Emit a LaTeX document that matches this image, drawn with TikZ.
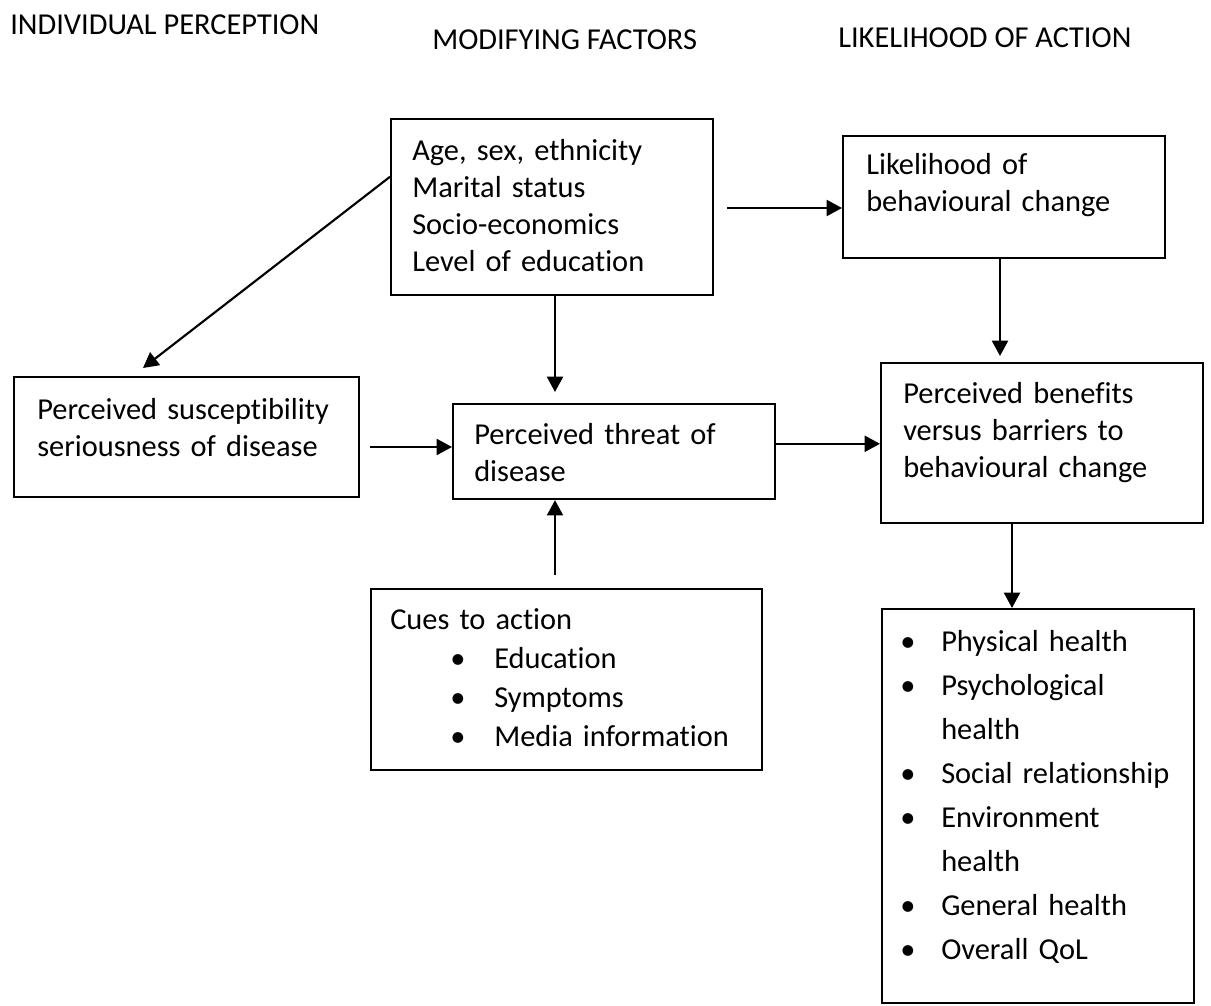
\documentclass[tikz,border=0pt]{standalone}
\usepackage{fontspec}
\setmainfont{Carlito}[RawFeature={-liga}]
\usetikzlibrary{arrows.meta,calc}

\newcommand{\itemdot}[1]{\makebox[#1][l]{\textbullet}}

\begin{document}
\begin{tikzpicture}[x=0.75pt,y=0.75pt,yscale=-1,xscale=1,
  box/.style={draw,line width=1.6pt,anchor=north west,inner sep=0pt},
  txt/.style={anchor=base west,inner sep=0pt,align=left,text width=#1},
  txt/.default=320pt,
  head/.style={anchor=base west,inner sep=0pt},
  arr/.style={line width=1.6pt,-{Triangle[length=11.5pt,width=12pt]}},
  font=\fontsize{22.8}{27.75}\selectfont]
\useasboundingbox (0,0) rectangle (1211,1006);

%Headers
\node[head] (hd-ind) at (10,35) {INDIVIDUAL PERCEPTION};
\node[head] (hd-mod) at (432,50) {MODIFYING FACTORS};
\node[head] (hd-act) at (838,48) {LIKELIHOOD OF ACTION};

%Boxes
\node[box,minimum width=241.5pt,minimum height=132pt] (demog) at (390,118) {};
\node[box,minimum width=241.5pt,minimum height=91.5pt] (likely) at (842,135) {};
\node[box,minimum width=258.75pt,minimum height=90pt] (suscept) at (13,376) {};
\node[box,minimum width=241.5pt,minimum height=71.25pt] (threat) at (452,403) {};
\node[box,minimum width=241.5pt,minimum height=120pt] (benefit) at (880,362) {};
\node[box,minimum width=293.25pt,minimum height=135.75pt] (cues) at (370,588) {};
\node[box,minimum width=234pt,minimum height=295.5pt] (outcome) at (881,608) {};

% Text Node
\node[txt] (demog-txt) at (412,161) {Age, sex, ethnicity\\ Marital status\\ Socio-economics\\ Level of education};
% Text Node
\node[txt] (likely-txt) at (866,175) {Likelihood of\\ behavioural change};
% Text Node
\node[txt] (suscept-txt) at (37,419) {Perceived susceptibility\\ seriousness of disease};
% Text Node
\node[txt] (threat-txt) at (474,444) {Perceived threat of\\ disease};
% Text Node
\node[txt] (benefit-txt) at (903,403) {Perceived benefits\\ versus barriers to\\ behavioural change};
% Text Node
\node[txt,font=\fontsize{22.8}{29.25}\selectfont] (cues-txt) at (390,629) {Cues to action\\
  \hspace*{45pt}\itemdot{33pt}Education\\
  \hspace*{45pt}\itemdot{33pt}Symptoms\\
  \hspace*{45pt}\itemdot{33pt}Media information};
% Text Node
\node[txt,font=\fontsize{22.8}{33}\selectfont] (outcome-txt) at (900,651) {\itemdot{30.75pt}Physical health\\
  \itemdot{30.75pt}Psychological\\
  \hspace*{30.75pt}health\\
  \itemdot{30.75pt}Social relationship\\
  \itemdot{30.75pt}Environment\\
  \hspace*{30.75pt}health\\
  \itemdot{30.75pt}General health\\
  \itemdot{30.75pt}Overall QoL};

%Arrow ends
\coordinate (diag-end) at (143,368);
\coordinate (mid-start) at (727,208);
\coordinate (down-end) at (555,392);
\coordinate (right-end) at (1000,356);
\coordinate (sus-start) at (370,447);
\coordinate (tb-start) at ($(threat.north east)!0.42!(threat.south east)$);
\coordinate (cue-start) at (555,575);
\coordinate (out-x) at (1012,0);

%Straight Lines
\draw[arr] ($(demog.north west)!0.33!(demog.south west)$) -- (diag-end);
\draw[arr] (mid-start) -- (mid-start -| likely.west);
\draw[arr] (down-end |- demog.south) -- (down-end);
\draw[arr] (right-end |- likely.south) -- (right-end);
\draw[arr] (sus-start) -- (sus-start -| threat.west);
\draw[arr] (tb-start) -- (tb-start -| benefit.west);
\draw[arr] (cue-start) -- (cue-start |- threat.south);
\draw[arr] (out-x |- benefit.south) -- (out-x |- outcome.north);

\end{tikzpicture}
\end{document}
